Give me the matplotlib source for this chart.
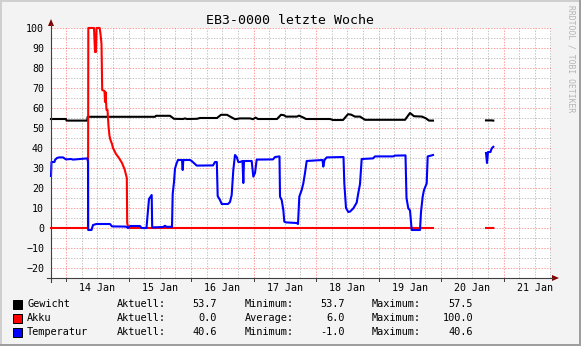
import numpy as np
import matplotlib.pyplot as plt
from matplotlib.lines import Line2D
from matplotlib.patches import Polygon, Rectangle
from matplotlib.transforms import blended_transform_factory

W, H = 581, 346
nan = np.nan

# time axis: day of January (decimal), NaN = no data
gew_t = [13.760, 14.000, 14.008, 14.341, 14.346, 15.424, 15.440, 15.664, 15.728, 15.872,
         15.904, 15.936, 16.096, 16.144, 16.416, 16.480, 16.576, 16.656, 16.704, 16.784,
         16.944, 16.992, 17.032, 17.072, 17.376, 17.440, 17.488, 17.520, 17.696, 17.728,
         17.792, 17.840, 18.224, 18.272, 18.432, 18.512, 18.560, 18.624, 18.704, 18.784,
         19.424, 19.504, 19.568, 19.696, 19.760, 19.808, 19.872, 20.300,
         20.720, 20.808, 20.837]
gew_v = [54.5, 54.5, 53.7, 53.7, 55.6, 55.6, 56.1, 56.1, 54.6, 54.5,
         54.8, 54.5, 54.6, 55.0, 55.0, 56.6, 56.6, 55.2, 54.4, 54.8,
         54.8, 54.4, 55.2, 54.5, 54.5, 56.6, 56.4, 55.7, 55.7, 56.2,
         55.3, 54.5, 54.5, 54.0, 54.0, 56.9, 56.7, 55.7, 55.7, 54.1,
         54.1, 57.5, 55.9, 55.7, 54.8, 53.7, 53.7, nan,
         53.8, 53.8, 53.7]

akku_t = [13.760, 14.352, 14.357, 14.448, 14.464, 14.480, 14.488, 14.539, 14.552, 14.568,
          14.579, 14.616, 14.624, 14.632, 14.648, 14.664, 14.680, 14.696, 14.712, 14.736,
          14.752, 14.800, 14.848, 14.896, 14.936, 14.965, 14.973, 14.979, 14.997, 19.872,
          20.300, 20.720, 20.837]
akku_v = [0, 0, 100, 100, 88, 88, 100, 100, 97, 92,
          69, 68.5, 63, 68, 59, 59, 51, 46, 44, 42,
          40, 37, 35, 32.5, 29.5, 26, 25, 2.5, 0, 0,
          nan, 0, 0]

temp_t = [13.760, 13.768, 13.816, 13.824, 13.856, 13.888, 13.952, 14.000, 14.080, 14.112,
          14.224, 14.341, 14.352, 14.355, 14.408, 14.432, 14.488, 14.704, 14.736, 14.960,
          14.992, 15.024, 15.184, 15.208, 15.288, 15.304, 15.328, 15.371, 15.379, 15.552,
          15.584, 15.608, 15.696, 15.707, 15.728, 15.744, 15.771, 15.792, 15.856, 15.867,
          15.877, 15.984, 16.011, 16.064, 16.091, 16.352, 16.384, 16.413, 16.427, 16.464,
          16.491, 16.592, 16.624, 16.651, 16.677, 16.704, 16.731, 16.757, 16.784, 16.824,
          16.837, 16.848, 16.971, 16.997, 17.024, 17.051, 17.312, 17.344, 17.416, 17.424,
          17.451, 17.477, 17.493, 17.520, 17.691, 17.712, 17.733, 17.771, 17.797, 17.824,
          17.851, 18.104, 18.117, 18.136, 18.171, 18.440, 18.453, 18.480, 18.517, 18.544,
          18.597, 18.651, 18.677, 18.704, 18.731, 18.912, 18.944, 19.232, 19.264, 19.432,
          19.448, 19.477, 19.504, 19.531, 19.557, 19.664, 19.680, 19.707, 19.728, 19.771,
          19.787, 19.851, 19.872, 20.300,
          20.720, 20.736, 20.752, 20.792, 20.811, 20.837]
temp_v = [26, 33, 33, 34, 35, 35.3, 35.3, 34.3, 34.5, 34.2,
          34.5, 34.8, 33, -1, -1, 1.5, 2, 2, 0.8, 0.7,
          0, 1, 1, 0, 0, 6, 14.5, 16.5, 0.3, 0.5,
          1.1, 0.6, 0.6, 17, 23, 29.7, 32.5, 34, 34, 29,
          34, 34, 33.5, 32, 31.2, 31.3, 33, 33, 16, 14,
          12, 12, 13, 16.5, 29, 36.5, 35.5, 33, 33, 33.5,
          22.5, 33.5, 33.5, 25.7, 27.5, 34.2, 34.3, 35.5, 35.8, 15.7,
          14, 9, 3.2, 2.8, 2.5, 2, 15.7, 19, 22.3, 27.5,
          33.5, 34, 30.7, 34, 35.3, 35.5, 22.3, 10, 8, 8.2,
          9.8, 12.7, 17.5, 22, 34.5, 34.8, 35.8, 35.8, 36.2, 36.3,
          15, 9.8, 8.8, -1, -1, -1, 8, 15.7, 19, 22.3,
          35.8, 36.3, 36.5, nan,
          37.5, 32.5, 38, 38, 39.8, 40.6]

days = [14, 15, 16, 17, 18, 19, 20, 21]
day_labels = [f"{d} Jan" for d in days]

names = ["Gewicht", "Akku", "Temperatur"]
colors = ["#000000", "#ff0000", "#0000ff"]
cur_vals = [53.7, 0.0, 40.6]
mid_labels = ["Minimum:", "Average:", "Minimum:"]
mid_vals = [53.7, 6.0, -1.0]
max_vals = [57.5, 100.0, 40.6]

MONO = "DejaVu Sans Mono"


def fx(px):
    return px / W


def fy(py):
    return 1 - py / H


fig = plt.figure(figsize=(W / 100, H / 100), dpi=100)
fig.patch.set_facecolor("#f3f3f3")

ax = fig.add_axes([fx(51), fy(278), 500 / W, 250 / H])
ax.set_facecolor("white")
ax.set_xlim(13.76, 21.76)
ax.set_ylim(-25, 100)
for s in ax.spines.values():
    s.set_visible(False)

# grid: gray every 6h / 5 units, red every day / 10 units
dots = (0, (1.4, 1.4))
grey = (0.5, 0.5, 0.5, 0.45)
red = (1.0, 0.0, 0.0, 0.38)
for q in np.arange(13.75, 21.76, 0.25):
    if q > 13.76 and q % 1:
        ax.axvline(q, color=grey, lw=0.72, ls=dots, zorder=1)
for yv in range(-15, 100, 10):
    ax.axhline(yv, color=grey, lw=0.72, ls=dots, zorder=1)
for d in days:
    ax.axvline(d, color=red, lw=0.72, ls=dots, zorder=1)
for yv in range(-20, 101, 10):
    ax.axhline(yv, color=red, lw=0.72, ls=dots, zorder=1)

ax.plot(gew_t, gew_v, color=colors[0], lw=1.5, zorder=3, clip_on=False)
ax.plot(akku_t, akku_v, color=colors[1], lw=1.5, zorder=4, clip_on=False)
ax.plot(temp_t, temp_v, color=colors[2], lw=1.5, zorder=5, clip_on=False)

ax.set_yticks(range(-20, 101, 10))
ax.set_xticks([d + 0.5 for d in days])
ax.set_xticklabels(day_labels)
ax.tick_params(axis="y", length=0, pad=5, labelsize=7.2)
ax.tick_params(axis="x", length=0, pad=3.5, labelsize=7.2)
for lab in ax.get_xticklabels() + ax.get_yticklabels():
    lab.set_family(MONO)

# little ticks under the x axis at each day
tr = blended_transform_factory(ax.transData, ax.transAxes)
for d in days:
    ax.plot([d, d], [0, -3 / 250], transform=tr, color="#404040", lw=0.72, clip_on=False)

# axes with arrows
axis_c = "#404040"
fig.add_artist(Line2D([fx(47), fx(553)], [fy(278), fy(278)], color=axis_c, lw=0.8))
fig.add_artist(Line2D([fx(51), fx(51)], [fy(282), fy(24)], color=axis_c, lw=0.8))
fig.add_artist(Polygon([[fx(51), fy(19)], [fx(48), fy(26)], [fx(54), fy(26)]],
                       closed=True, transform=fig.transFigure, color="#800000", lw=0))
fig.add_artist(Polygon([[fx(559), fy(278)], [fx(552), fy(275)], [fx(552), fy(281)]],
                       closed=True, transform=fig.transFigure, color="#800000", lw=0))

# frame shading
fig.add_artist(Rectangle((0, fy(2)), 1, 2 / H, transform=fig.transFigure, color="#cfcfcf", lw=0))
fig.add_artist(Rectangle((0, 0), 2 / W, 1, transform=fig.transFigure, color="#cfcfcf", lw=0))
fig.add_artist(Rectangle((0, 0), 1, 2 / H, transform=fig.transFigure, color="#9e9e9e", lw=0))
fig.add_artist(Rectangle((fx(W - 2), 0), 2 / W, 1, transform=fig.transFigure, color="#9e9e9e", lw=0))

fig.text(0.5, fy(20), "EB3-0000 letzte Woche", ha="center", va="center",
         fontsize=9.5, family=MONO)
fig.text(fx(571), fy(5), "RRDTOOL / TOBI OETIKER", rotation=270, ha="center", va="top",
         fontsize=5.8, family=MONO, color="#b4b4b4")

# legend with statistics
for i, name in enumerate(names):
    yc = 304 + 14 * i
    fig.add_artist(Rectangle((fx(13), fy(yc + 4.5)), 9 / W, 9 / H, transform=fig.transFigure,
                             facecolor=colors[i], edgecolor="black", lw=0.72))
    kw = dict(va="center", fontsize=7.4, family=MONO)
    fig.text(fx(27), fy(yc), name, ha="left", **kw)
    fig.text(fx(117), fy(yc), "Aktuell:", ha="left", **kw)
    fig.text(fx(217), fy(yc), f"{cur_vals[i]:.1f}", ha="right", **kw)
    fig.text(fx(245), fy(yc), mid_labels[i], ha="left", **kw)
    fig.text(fx(345), fy(yc), f"{mid_vals[i]:.1f}", ha="right", **kw)
    fig.text(fx(372), fy(yc), "Maximum:", ha="left", **kw)
    fig.text(fx(473), fy(yc), f"{max_vals[i]:.1f}", ha="right", **kw)

fig.savefig("out.png", dpi=100, facecolor=fig.get_facecolor())
